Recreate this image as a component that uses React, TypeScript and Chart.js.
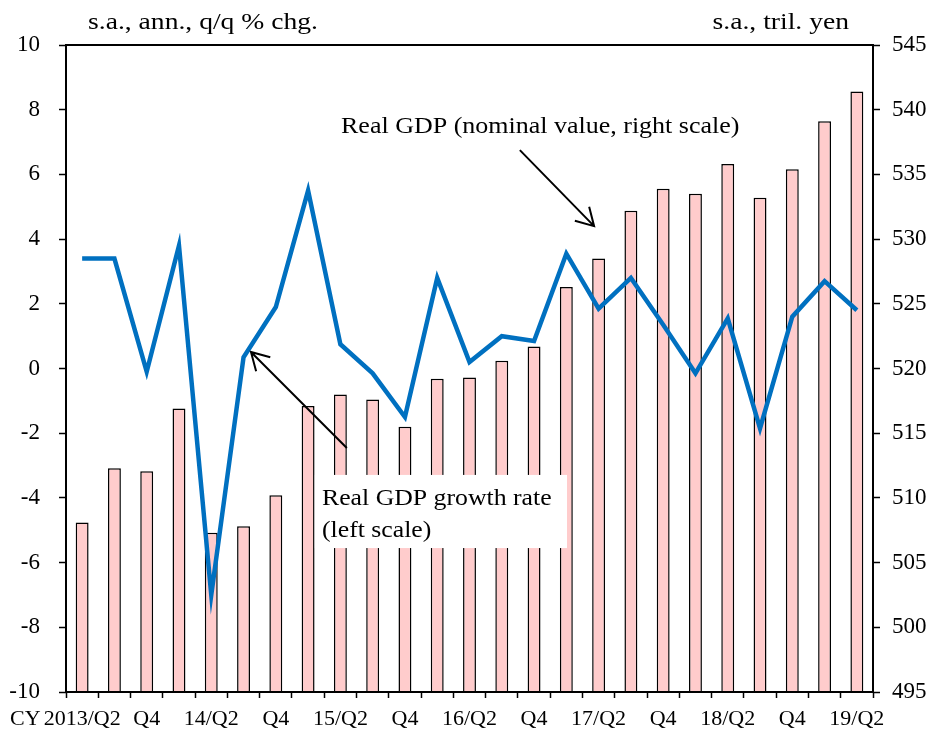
import React, { useEffect, useRef } from "react";
import { Chart, registerables } from "chart.js";

Chart.register(...registerables);

// ---- data ----
const categories = [
  "2013/Q2", "Q3", "Q4", "14/Q1", "14/Q2", "Q3", "Q4", "15/Q1", "15/Q2", "Q3", "Q4",
  "16/Q1", "16/Q2", "Q3", "Q4", "17/Q1", "17/Q2", "Q3", "Q4", "18/Q1", "18/Q2", "Q3", "Q4",
  "19/Q1", "19/Q2",
];

// Real GDP level, nominal value (right scale, s.a., tril. yen)
const gdpLevel = [
  508.1, 512.3, 512.05, 516.9, 507.3, 507.8, 510.2, 517.1, 518.0, 517.6, 515.5,
  519.2, 519.3, 520.6, 521.7, 526.3, 528.5, 532.2, 533.9, 533.5, 535.8, 533.2, 535.4,
  539.1, 541.4,
];

// Real GDP growth rate (left scale, s.a., ann., q/q % chg.)
const gdpGrowth = [
  3.4, 3.4, -0.1, 3.8, -7.0, 0.35, 1.9, 5.5, 0.75, -0.15, -1.5,
  2.8, 0.2, 1.0, 0.85, 3.55, 1.85, 2.8, 1.35, -0.15, 1.55, -1.85, 1.6,
  2.7, 1.8,
];

const leftAxis = { min: -10, max: 10, step: 2 };
const rightAxis = { min: 495, max: 545, step: 5 };

const leftTitle = "s.a., ann., q/q % chg.";
const rightTitle = "s.a., tril. yen";
const xPrefix = "CY";
const levelNote = "Real GDP (nominal value, right scale)";
const growthNote = ["Real GDP growth rate", "(left scale)"];

const SERIF = "'Liberation Serif', 'Times New Roman', serif";
const X_TICK_LEN = 6;
const X_TICK_PAD = 8;
const X_TICK_SIZE = 22;

function stretchText(
  ctx: CanvasRenderingContext2D,
  text: string,
  x: number,
  y: number,
  size: number,
  sx: number,
  align: "left" | "right" | "center" = "left",
  baseline: CanvasTextBaseline = "alphabetic"
) {
  ctx.save();
  ctx.font = `${size}px ${SERIF}`;
  ctx.fillStyle = "#000";
  ctx.textAlign = "left";
  ctx.textBaseline = baseline;
  const w = ctx.measureText(text).width * sx;
  const x0 = align === "right" ? x - w : align === "center" ? x - w / 2 : x;
  ctx.translate(x0, y);
  ctx.scale(sx, 1);
  ctx.fillText(text, 0, 0);
  ctx.restore();
}

function arrow(ctx: CanvasRenderingContext2D, x1: number, y1: number, x2: number, y2: number) {
  const ang = Math.atan2(y2 - y1, x2 - x1);
  const head = 20;
  const spread = (30 * Math.PI) / 180;
  ctx.save();
  ctx.strokeStyle = "#000";
  ctx.lineWidth = 2;
  ctx.lineCap = "butt";
  ctx.beginPath();
  ctx.moveTo(x1, y1);
  ctx.lineTo(x2, y2);
  ctx.moveTo(x2 - head * Math.cos(ang - spread), y2 - head * Math.sin(ang - spread));
  ctx.lineTo(x2, y2);
  ctx.lineTo(x2 - head * Math.cos(ang + spread), y2 - head * Math.sin(ang + spread));
  ctx.stroke();
  ctx.restore();
}

const decorations = {
  id: "decorations",
  afterDatasetsDraw(chart: any) {
    const ctx: CanvasRenderingContext2D = chart.ctx;
    const xs = chart.scales.x;
    const ys = chart.scales.y;
    const px = (i: number) => xs.getPixelForValue(i);
    const py = (v: number) => ys.getPixelForValue(v);

    // label for the level bars
    stretchText(ctx, levelNote, px(8.02), py(7.28), 23, 1.13, "left");
    arrow(ctx, px(13.56), py(6.75), px(15.86), py(4.4));

    // label for the growth line (white box)
    ctx.save();
    ctx.fillStyle = "#fff";
    const bx0 = px(7.21), bx1 = px(15.02), by0 = py(-3.29), by1 = py(-5.55);
    ctx.fillRect(bx0, by0, bx1 - bx0, by1 - by0);
    ctx.restore();
    stretchText(ctx, growthNote[0], px(7.43), py(-4.22), 23, 1.12, "left");
    stretchText(ctx, growthNote[1], px(7.43), py(-5.21), 23, 1.12, "left");
    arrow(ctx, px(8.2), py(-2.46), px(5.23), py(0.51));
  },
  afterDraw(chart: any) {
    const ctx: CanvasRenderingContext2D = chart.ctx;
    const a = chart.chartArea;
    // frame
    ctx.save();
    ctx.strokeStyle = "#000";
    ctx.lineWidth = 2;
    ctx.strokeRect(a.left, a.top, a.right - a.left, a.bottom - a.top);
    ctx.restore();
    // axis titles
    stretchText(ctx, leftTitle, a.left + 22, a.top - 16, 24, 1.15, "left");
    stretchText(ctx, rightTitle, a.right - 24, a.top - 16, 24, 1.15, "right");
    // CY prefix
    const xs = chart.scales.x;
    ctx.save();
    ctx.font = `${X_TICK_SIZE}px ${SERIF}`;
    const firstW = ctx.measureText(categories[0]).width;
    ctx.restore();
    const midY = xs.top + X_TICK_LEN + X_TICK_PAD + (X_TICK_SIZE * 1.2) / 2;
    stretchText(ctx, xPrefix, xs.getPixelForValue(0) - firstW / 2 - 3, midY, X_TICK_SIZE, 1, "right", "middle");
  },
};

export default function App() {
  const ref = useRef<HTMLCanvasElement | null>(null);

  useEffect(() => {
    document.body.style.margin = "0";
    const canvas = ref.current;
    if (!canvas) return;
    const xTickFont = { family: SERIF, size: X_TICK_SIZE };
    const yTickFont = { family: SERIF, size: 23 };
    const chart = new Chart(canvas, {
      type: "bar",
      data: {
        labels: categories,
        datasets: [
          {
            type: "line",
            label: "Real GDP growth rate",
            data: gdpGrowth,
            yAxisID: "y",
            borderColor: "#0070C0",
            backgroundColor: "#0070C0",
            borderWidth: 4.5,
            pointRadius: 0,
            tension: 0,
            order: 0,
          } as any,
          {
            type: "bar",
            label: "Real GDP",
            data: gdpLevel,
            yAxisID: "y1",
            backgroundColor: "#FFCCCC",
            borderColor: "#000",
            borderWidth: 1.5,
            barPercentage: 0.4,
            categoryPercentage: 1,
            order: 1,
          } as any,
        ],
      },
      options: {
        animation: false,
        responsive: false,
        devicePixelRatio: 1,
        layout: { padding: { top: 45, left: 0, right: 0, bottom: 0 } },
        plugins: { legend: { display: false }, tooltip: { enabled: false } },
        scales: {
          x: {
            type: "category",
            offset: true,
            border: { display: false },
            grid: {
              display: true,
              offset: true,
              drawOnChartArea: false,
              drawTicks: true,
              tickLength: X_TICK_LEN,
              tickColor: "#000",
              tickWidth: 1.5,
            },
            ticks: {
              autoSkip: false,
              maxRotation: 0,
              minRotation: 0,
              padding: X_TICK_PAD,
              color: "#000",
              font: xTickFont,
              callback: (_v: any, i: number) => (i % 2 === 0 ? categories[i] : ""),
            },
            afterFit: (s: any) => {
              s.height = 42;
            },
          },
          y: {
            type: "linear",
            position: "left",
            min: leftAxis.min,
            max: leftAxis.max,
            border: { display: false },
            grid: {
              display: true,
              drawOnChartArea: false,
              drawTicks: true,
              tickLength: 7,
              tickColor: "#000",
              tickWidth: 1.5,
            },
            ticks: { stepSize: leftAxis.step, padding: 19, color: "#000", font: yTickFont },
            afterFit: (s: any) => {
              s.width = 66;
            },
          },
          y1: {
            type: "linear",
            position: "right",
            min: rightAxis.min,
            max: rightAxis.max,
            border: { display: false },
            grid: {
              display: true,
              drawOnChartArea: false,
              drawTicks: true,
              tickLength: 7,
              tickColor: "#000",
              tickWidth: 1.5,
            },
            ticks: { stepSize: rightAxis.step, padding: 12, color: "#000", font: yTickFont },
            afterFit: (s: any) => {
              s.width = 60;
            },
          },
        },
      } as any,
      plugins: [decorations],
    });
    return () => chart.destroy();
  }, []);

  return (
    <div style={{ width: 933, height: 734 }}>
      <canvas ref={ref} width={933} height={734} style={{ display: "block" }} />
    </div>
  );
}
